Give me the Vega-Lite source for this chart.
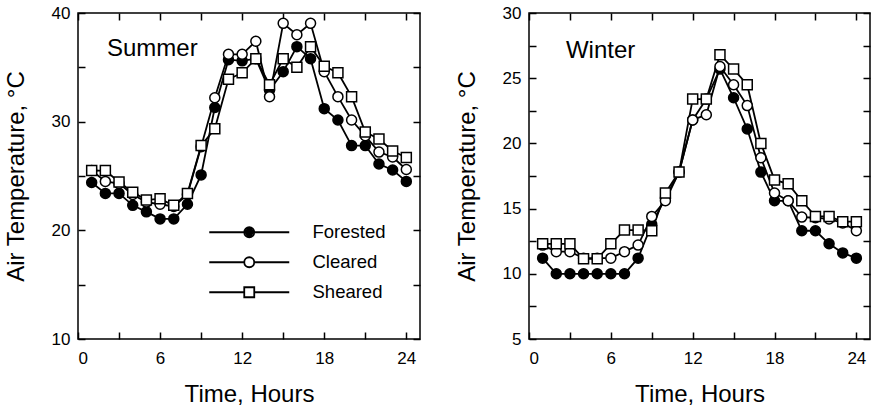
{
  "$schema": "https://vega.github.io/schema/vega-lite/v6.json",
  "background": "white",
  "padding": {"left": 3, "top": 3, "right": 4, "bottom": 4},
  "config": {
    "font": "Liberation Sans",
    "view": {"stroke": "black", "strokeWidth": 1.5},
    "axis": {"grid": false, "domain": false, "tickColor": "black", "tickWidth": 1.5, "tickSize": -7, "labelColor": "black", "titleColor": "black", "labelFontSize": 17, "titleFontSize": 24, "titleFontWeight": "normal", "labelFont": "Liberation Sans", "titleFont": "Liberation Sans"}
  },
  "datasets": {
    "summer": [
      {"hour": 1, "series": "Forested", "temp": 24.4}, {"hour": 2, "series": "Forested", "temp": 23.4}, {"hour": 3, "series": "Forested", "temp": 23.4}, {"hour": 4, "series": "Forested", "temp": 22.3}, {"hour": 5, "series": "Forested", "temp": 21.7}, {"hour": 6, "series": "Forested", "temp": 21.05}, {"hour": 7, "series": "Forested", "temp": 21.05}, {"hour": 8, "series": "Forested", "temp": 22.4}, {"hour": 9, "series": "Forested", "temp": 25.1}, {"hour": 10, "series": "Forested", "temp": 31.3}, {"hour": 11, "series": "Forested", "temp": 35.7}, {"hour": 12, "series": "Forested", "temp": 35.6}, {"hour": 13, "series": "Forested", "temp": 35.8}, {"hour": 14, "series": "Forested", "temp": 32.9}, {"hour": 15, "series": "Forested", "temp": 34.6}, {"hour": 16, "series": "Forested", "temp": 36.9}, {"hour": 17, "series": "Forested", "temp": 35.8}, {"hour": 18, "series": "Forested", "temp": 31.2}, {"hour": 19, "series": "Forested", "temp": 30.15}, {"hour": 20, "series": "Forested", "temp": 27.8}, {"hour": 21, "series": "Forested", "temp": 27.8}, {"hour": 22, "series": "Forested", "temp": 26.1}, {"hour": 23, "series": "Forested", "temp": 25.55}, {"hour": 24, "series": "Forested", "temp": 24.5},
      {"hour": 1, "series": "Cleared", "temp": 25.5}, {"hour": 2, "series": "Cleared", "temp": 24.5}, {"hour": 3, "series": "Cleared", "temp": 24.3}, {"hour": 4, "series": "Cleared", "temp": 23.3}, {"hour": 5, "series": "Cleared", "temp": 22.6}, {"hour": 6, "series": "Cleared", "temp": 22.4}, {"hour": 7, "series": "Cleared", "temp": 22.2}, {"hour": 8, "series": "Cleared", "temp": 23.3}, {"hour": 9, "series": "Cleared", "temp": 27.7}, {"hour": 10, "series": "Cleared", "temp": 32.2}, {"hour": 11, "series": "Cleared", "temp": 36.2}, {"hour": 12, "series": "Cleared", "temp": 36.2}, {"hour": 13, "series": "Cleared", "temp": 37.4}, {"hour": 14, "series": "Cleared", "temp": 32.3}, {"hour": 15, "series": "Cleared", "temp": 39.05}, {"hour": 16, "series": "Cleared", "temp": 38.0}, {"hour": 17, "series": "Cleared", "temp": 39.05}, {"hour": 18, "series": "Cleared", "temp": 34.6}, {"hour": 19, "series": "Cleared", "temp": 32.3}, {"hour": 20, "series": "Cleared", "temp": 30.15}, {"hour": 21, "series": "Cleared", "temp": 28.7}, {"hour": 22, "series": "Cleared", "temp": 27.2}, {"hour": 23, "series": "Cleared", "temp": 26.75}, {"hour": 24, "series": "Cleared", "temp": 25.6},
      {"hour": 1, "series": "Sheared", "temp": 25.5}, {"hour": 2, "series": "Sheared", "temp": 25.5}, {"hour": 3, "series": "Sheared", "temp": 24.45}, {"hour": 4, "series": "Sheared", "temp": 23.5}, {"hour": 5, "series": "Sheared", "temp": 22.8}, {"hour": 6, "series": "Sheared", "temp": 22.9}, {"hour": 7, "series": "Sheared", "temp": 22.3}, {"hour": 8, "series": "Sheared", "temp": 23.4}, {"hour": 9, "series": "Sheared", "temp": 27.8}, {"hour": 10, "series": "Sheared", "temp": 29.35}, {"hour": 11, "series": "Sheared", "temp": 33.9}, {"hour": 12, "series": "Sheared", "temp": 34.5}, {"hour": 13, "series": "Sheared", "temp": 35.8}, {"hour": 14, "series": "Sheared", "temp": 33.4}, {"hour": 15, "series": "Sheared", "temp": 35.8}, {"hour": 16, "series": "Sheared", "temp": 35.0}, {"hour": 17, "series": "Sheared", "temp": 36.9}, {"hour": 18, "series": "Sheared", "temp": 35.1}, {"hour": 19, "series": "Sheared", "temp": 34.5}, {"hour": 20, "series": "Sheared", "temp": 32.3}, {"hour": 21, "series": "Sheared", "temp": 29.05}, {"hour": 22, "series": "Sheared", "temp": 28.4}, {"hour": 23, "series": "Sheared", "temp": 27.3}, {"hour": 24, "series": "Sheared", "temp": 26.7}
    ],
    "winter": [
      {"hour": 1, "series": "Forested", "temp": 11.2}, {"hour": 2, "series": "Forested", "temp": 10.0}, {"hour": 3, "series": "Forested", "temp": 10.0}, {"hour": 4, "series": "Forested", "temp": 10.0}, {"hour": 5, "series": "Forested", "temp": 10.0}, {"hour": 6, "series": "Forested", "temp": 10.0}, {"hour": 7, "series": "Forested", "temp": 10.0}, {"hour": 8, "series": "Forested", "temp": 11.2}, {"hour": 9, "series": "Forested", "temp": 13.8}, {"hour": 10, "series": "Forested", "temp": 15.8}, {"hour": 11, "series": "Forested", "temp": 17.8}, {"hour": 12, "series": "Forested", "temp": 21.8}, {"hour": 13, "series": "Forested", "temp": 23.4}, {"hour": 14, "series": "Forested", "temp": 25.7}, {"hour": 15, "series": "Forested", "temp": 23.5}, {"hour": 16, "series": "Forested", "temp": 21.1}, {"hour": 17, "series": "Forested", "temp": 17.8}, {"hour": 18, "series": "Forested", "temp": 15.6}, {"hour": 19, "series": "Forested", "temp": 15.6}, {"hour": 20, "series": "Forested", "temp": 13.3}, {"hour": 21, "series": "Forested", "temp": 13.3}, {"hour": 22, "series": "Forested", "temp": 12.3}, {"hour": 23, "series": "Forested", "temp": 11.6}, {"hour": 24, "series": "Forested", "temp": 11.2},
      {"hour": 1, "series": "Cleared", "temp": 12.2}, {"hour": 2, "series": "Cleared", "temp": 11.7}, {"hour": 3, "series": "Cleared", "temp": 11.7}, {"hour": 4, "series": "Cleared", "temp": 11.2}, {"hour": 5, "series": "Cleared", "temp": 11.2}, {"hour": 6, "series": "Cleared", "temp": 11.2}, {"hour": 7, "series": "Cleared", "temp": 11.7}, {"hour": 8, "series": "Cleared", "temp": 12.2}, {"hour": 9, "series": "Cleared", "temp": 14.4}, {"hour": 10, "series": "Cleared", "temp": 15.6}, {"hour": 11, "series": "Cleared", "temp": 17.8}, {"hour": 12, "series": "Cleared", "temp": 21.8}, {"hour": 13, "series": "Cleared", "temp": 22.2}, {"hour": 14, "series": "Cleared", "temp": 25.9}, {"hour": 15, "series": "Cleared", "temp": 24.5}, {"hour": 16, "series": "Cleared", "temp": 22.9}, {"hour": 17, "series": "Cleared", "temp": 18.9}, {"hour": 18, "series": "Cleared", "temp": 16.2}, {"hour": 19, "series": "Cleared", "temp": 15.6}, {"hour": 20, "series": "Cleared", "temp": 14.35}, {"hour": 21, "series": "Cleared", "temp": 14.3}, {"hour": 22, "series": "Cleared", "temp": 14.2}, {"hour": 23, "series": "Cleared", "temp": 13.9}, {"hour": 24, "series": "Cleared", "temp": 13.3},
      {"hour": 1, "series": "Sheared", "temp": 12.3}, {"hour": 2, "series": "Sheared", "temp": 12.3}, {"hour": 3, "series": "Sheared", "temp": 12.3}, {"hour": 4, "series": "Sheared", "temp": 11.15}, {"hour": 5, "series": "Sheared", "temp": 11.15}, {"hour": 6, "series": "Sheared", "temp": 12.3}, {"hour": 7, "series": "Sheared", "temp": 13.35}, {"hour": 8, "series": "Sheared", "temp": 13.35}, {"hour": 9, "series": "Sheared", "temp": 13.3}, {"hour": 10, "series": "Sheared", "temp": 16.2}, {"hour": 11, "series": "Sheared", "temp": 17.8}, {"hour": 12, "series": "Sheared", "temp": 23.4}, {"hour": 13, "series": "Sheared", "temp": 23.4}, {"hour": 14, "series": "Sheared", "temp": 26.8}, {"hour": 15, "series": "Sheared", "temp": 25.7}, {"hour": 16, "series": "Sheared", "temp": 24.5}, {"hour": 17, "series": "Sheared", "temp": 20.0}, {"hour": 18, "series": "Sheared", "temp": 17.2}, {"hour": 19, "series": "Sheared", "temp": 16.9}, {"hour": 20, "series": "Sheared", "temp": 15.6}, {"hour": 21, "series": "Sheared", "temp": 14.4}, {"hour": 22, "series": "Sheared", "temp": 14.4}, {"hour": 23, "series": "Sheared", "temp": 14.0}, {"hour": 24, "series": "Sheared", "temp": 14.0}
    ],
    "labels": [
      {"season": "Summer", "hour": 2.12, "temp": 36.73},
      {"season": "Winter", "hour": 2.71, "temp": 27.09}
    ]
  },
  "resolve": {
    "scale": {"x": "independent", "y": "independent", "shape": "independent", "fill": "independent"},
    "legend": {"shape": "independent", "fill": "independent"}
  },
  "spacing": 32,
  "hconcat": [
    {
      "width": 342,
      "height": 326,
      "resolve": {"axis": {"x": "independent", "y": "independent"}, "scale": {"shape": "independent", "fill": "independent"}, "legend": {"shape": "independent", "fill": "independent"}},
      "layer": [
        {
          "data": {"name": "summer"},
          "mark": {"type": "line", "color": "black", "strokeWidth": 1.8},
          "encoding": {
            "x": {"field": "hour", "type": "quantitative", "scale": {"domain": [0, 25], "nice": false}, "axis": {"values": [0, 3, 6, 9, 12, 15, 18, 21, 24], "labelExpr": "datum.value % 6 == 0 ? datum.label : ''", "title": "Time, Hours", "labelPadding": 18, "titlePadding": 16}},
            "y": {"field": "temp", "type": "quantitative", "scale": {"domain": [10, 40], "nice": false, "zero": false}, "axis": {"values": [10, 15, 20, 25, 30, 35, 40], "labelExpr": "datum.value % 10 == 0 ? datum.label : ''", "title": "Air Temperature, °C", "labelPadding": 15, "titlePadding": 23}},
            "detail": {"field": "series"}
          }
        },
        {
          "data": {"name": "summer"},
          "mark": {"type": "point", "stroke": "black", "strokeWidth": 1.5, "size": 100, "opacity": 1, "fillOpacity": 1},
          "encoding": {
            "x": {"field": "hour", "type": "quantitative", "axis": {"orient": "top", "values": [0, 3, 6, 9, 12, 15, 18, 21, 24], "labels": false, "title": null}},
            "y": {"field": "temp", "type": "quantitative", "axis": {"orient": "right", "values": [10, 15, 20, 25, 30, 35, 40], "labels": false, "title": null}},
            "shape": {"field": "series", "type": "nominal", "scale": {"domain": ["Forested", "Cleared", "Sheared"], "range": ["circle", "circle", "square"]}, "legend": null},
            "fill": {"field": "series", "type": "nominal", "scale": {"domain": ["Forested", "Cleared", "Sheared"], "range": ["black", "white", "white"]}, "legend": null}
          }
        },
        {
          "data": {"name": "summer"},
          "mark": {"type": "point", "stroke": "black", "strokeWidth": 1.8, "opacity": 0, "size": 1, "clip": true},
          "encoding": {
            "x": {"field": "hour", "type": "quantitative", "axis": null},
            "y": {"field": "temp", "type": "quantitative", "axis": null},
            "shape": {"field": "series", "type": "nominal",
              "scale": {"domain": ["Forested", "Cleared", "Sheared"], "range": [
                "M-8,0H8M1,0A1,1,0,1,1,-1,0A1,1,0,1,1,1,0ZM0.65,0A0.65,0.65,0,1,1,-0.65,0A0.65,0.65,0,1,1,0.65,0ZM0.3,0A0.3,0.3,0,1,1,-0.3,0A0.3,0.3,0,1,1,0.3,0ZM0.08,0A0.08,0.08,0,1,1,-0.08,0A0.08,0.08,0,1,1,0.08,0Z",
                "M-8,0H-1M1,0H8M1,0A1,1,0,1,1,-1,0A1,1,0,1,1,1,0Z",
                "M-8,0H-1M1,0H8M-1,-1H1V1H-1Z"]},
              "legend": {"orient": "none", "legendX": 162, "legendY": 210, "title": null, "labelFontSize": 18.5, "labelFont": "Liberation Sans", "labelColor": "black", "symbolSize": 100, "labelOffset": 54, "rowPadding": 11, "padding": 0, "symbolOpacity": 1, "symbolFillColor": "white", "symbolStrokeColor": "black", "symbolStrokeWidth": 1.8}}
          }
        },
        {
          "data": {"name": "labels"},
          "transform": [{"filter": "datum.season == 'Summer'"}],
          "mark": {"type": "text", "align": "left", "baseline": "middle", "fontSize": 24, "font": "Liberation Sans", "color": "black"},
          "encoding": {
            "x": {"field": "hour", "type": "quantitative", "axis": null},
            "y": {"field": "temp", "type": "quantitative", "axis": null},
            "text": {"field": "season"}
          }
        }
      ]
    },
    {
      "width": 341,
      "height": 326,
      "resolve": {"axis": {"x": "independent", "y": "independent"}},
      "layer": [
        {
          "data": {"name": "winter"},
          "mark": {"type": "line", "color": "black", "strokeWidth": 1.8},
          "encoding": {
            "x": {"field": "hour", "type": "quantitative", "scale": {"domain": [0, 25], "nice": false}, "axis": {"values": [0, 3, 6, 9, 12, 15, 18, 21, 24], "labelExpr": "datum.value % 6 == 0 ? datum.label : ''", "title": "Time, Hours", "labelPadding": 18, "titlePadding": 16}},
            "y": {"field": "temp", "type": "quantitative", "scale": {"domain": [5, 30], "nice": false, "zero": false}, "axis": {"values": [5, 7.5, 10, 12.5, 15, 17.5, 20, 22.5, 25, 27.5, 30], "labelExpr": "datum.value % 5 == 0 ? datum.label : ''", "title": "Air Temperature, °C", "labelPadding": 15, "titlePadding": 23}},
            "detail": {"field": "series"}
          }
        },
        {
          "data": {"name": "winter"},
          "mark": {"type": "point", "stroke": "black", "strokeWidth": 1.5, "size": 100, "opacity": 1, "fillOpacity": 1},
          "encoding": {
            "x": {"field": "hour", "type": "quantitative", "axis": {"orient": "top", "values": [0, 3, 6, 9, 12, 15, 18, 21, 24], "labels": false, "title": null}},
            "y": {"field": "temp", "type": "quantitative", "axis": {"orient": "right", "values": [5, 7.5, 10, 12.5, 15, 17.5, 20, 22.5, 25, 27.5, 30], "labels": false, "title": null}},
            "shape": {"field": "series", "type": "nominal", "scale": {"domain": ["Forested", "Cleared", "Sheared"], "range": ["circle", "circle", "square"]}, "legend": null},
            "fill": {"field": "series", "type": "nominal", "scale": {"domain": ["Forested", "Cleared", "Sheared"], "range": ["black", "white", "white"]}, "legend": null}
          }
        },
        {
          "data": {"name": "labels"},
          "transform": [{"filter": "datum.season == 'Winter'"}],
          "mark": {"type": "text", "align": "left", "baseline": "middle", "fontSize": 24, "font": "Liberation Sans", "color": "black"},
          "encoding": {
            "x": {"field": "hour", "type": "quantitative", "axis": null},
            "y": {"field": "temp", "type": "quantitative", "axis": null},
            "text": {"field": "season"}
          }
        }
      ]
    }
  ]
}
